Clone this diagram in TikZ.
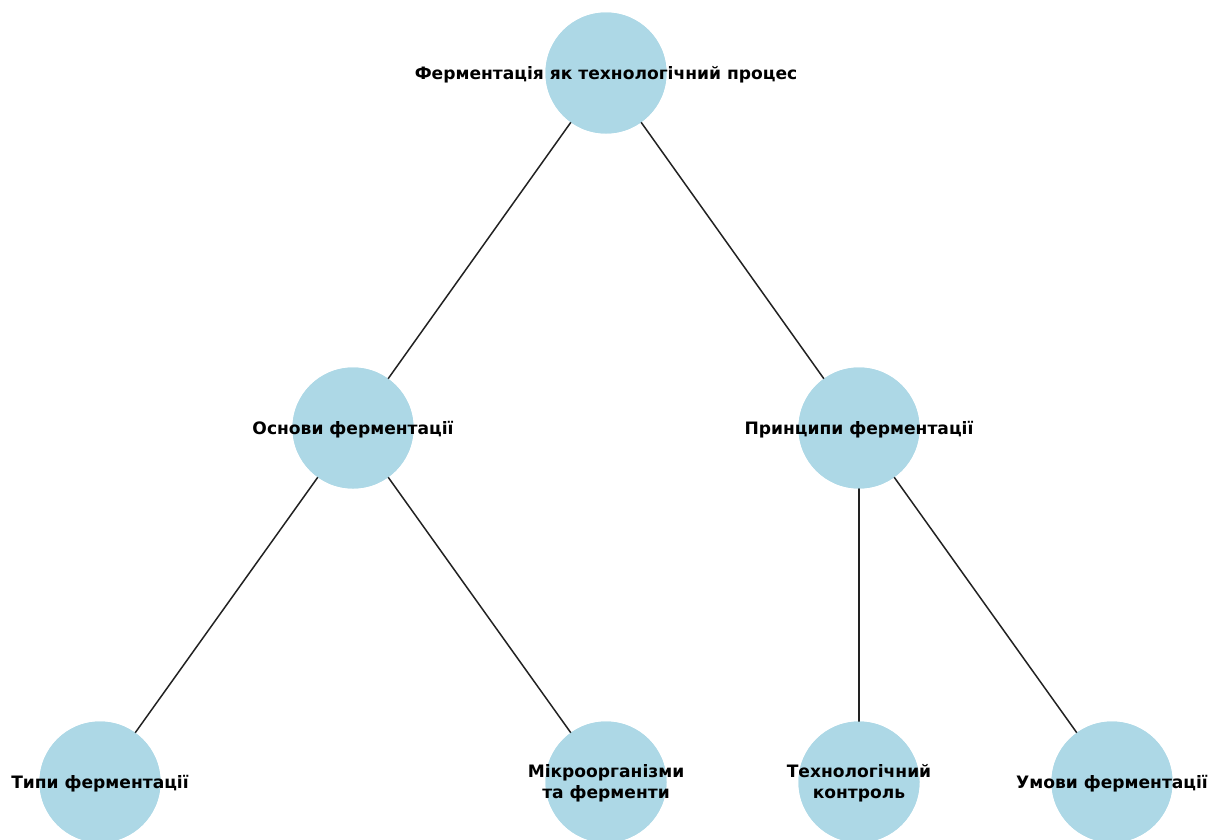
\documentclass[tikz,border=0pt]{standalone}
\usepackage{fontspec}
\setmainfont{DejaVu Sans}
\definecolor{nodeblue}{HTML}{ADD8E6}
\definecolor{edgecol}{HTML}{222222}
\begin{document}
\begin{tikzpicture}[x=1pt,y=-1pt,
  circ/.style={circle,fill=nodeblue,draw=none,minimum size=121pt,inner sep=0pt},
  lbl/.style={font=\fontsize{17.1pt}{21pt}\selectfont\bfseries,align=center,text=black,inner sep=0pt},
  edge/.style={draw=edgecol,line width=1.5pt}]
\useasboundingbox (0,0) rectangle (1211,839);
\node[circ] (r) at (606,73) {};
\node[circ] (a) at (353,428) {};
\node[circ] (b) at (859,428) {};
\node[circ] (a1) at (100,782) {};
\node[circ] (a2) at (606,782) {};
\node[circ] (b1) at (859,782) {};
\node[circ] (b2) at (1112,782) {};
\draw[edge] (r.center) -- (a.center);
\draw[edge] (r.center) -- (b.center);
\draw[edge] (a.center) -- (a1.center);
\draw[edge] (a.center) -- (a2.center);
\draw[edge] (b.center) -- (b1.center);
\draw[edge] (b.center) -- (b2.center);
\foreach \n in {r,a,b,a1,a2,b1,b2} {\fill[nodeblue] (\n) circle (60.5pt);}
\node[lbl] (tr) at ([yshift=-1.5pt]r) {Ферментація як технологічний процес};
\node[lbl] (ta) at ([yshift=-1.5pt]a) {Основи ферментації};
\node[lbl] (tb) at ([yshift=-1.5pt]b) {Принципи ферментації};
\node[lbl] (ta1) at ([yshift=-1.5pt]a1) {Типи ферментації};
\node[lbl] (ta2) at ([yshift=-1.5pt]a2) {Мікроорганізми\\та ферменти};
\node[lbl] (tb1) at ([yshift=-1.5pt]b1) {Технологічний\\контроль};
\node[lbl] (tb2) at ([yshift=-1.5pt]b2) {Умови ферментації};
\end{tikzpicture}
\end{document}
